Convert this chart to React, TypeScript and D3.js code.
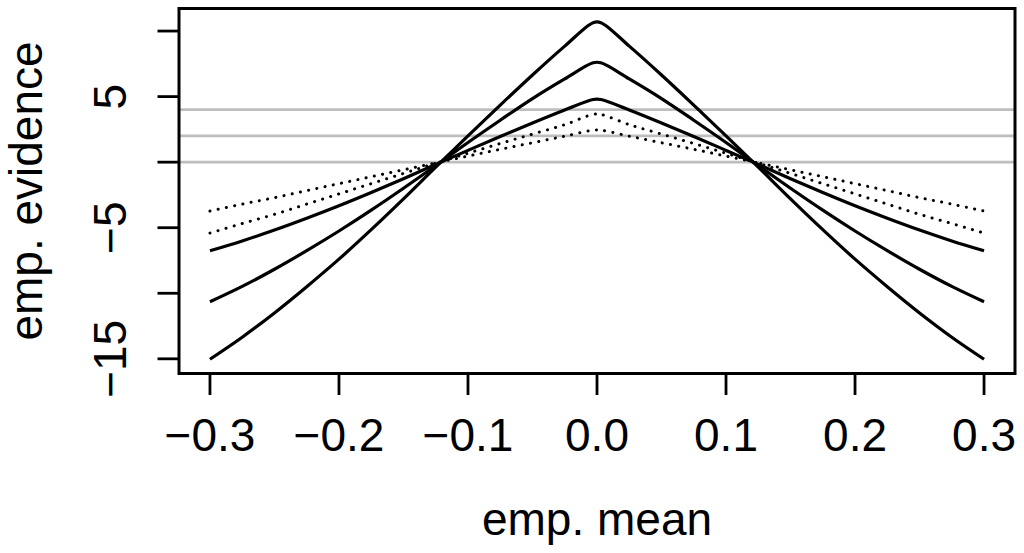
import React from "react";
import * as d3 from "d3";

// emp. mean grid (x) and the five evidence curves
const meanGrid = [
  -0.3, -0.275, -0.25, -0.225, -0.2, -0.175, -0.15, -0.125, -0.1, -0.075, -0.05, -0.025, -0.003,
  0.003, 0.025, 0.05, 0.075, 0.1, 0.125, 0.15, 0.175, 0.2, 0.225, 0.25, 0.275, 0.3,
];
const solidLarge = [
  -15.03, -13.35, -11.5, -9.5, -7.4, -5.15, -2.8, -0.38, 2.0, 4.35, 6.65, 8.85, 10.64,
  10.64, 8.85, 6.65, 4.35, 2.0, -0.38, -2.8, -5.15, -7.4, -9.5, -11.5, -13.35, -15.03,
];
const solidMid = [
  -10.65, -9.48, -8.17, -6.75, -5.25, -3.66, -1.99, -0.27, 1.5, 3.2, 4.85, 6.35, 7.58,
  7.58, 6.35, 4.85, 3.2, 1.5, -0.27, -1.99, -3.66, -5.25, -6.75, -8.17, -9.48, -10.65,
];
const solidSmall = [
  -6.76, -6.01, -5.18, -4.28, -3.33, -2.32, -1.26, -0.17, 0.9, 1.96, 2.99, 3.98, 4.78,
  4.78, 3.98, 2.99, 1.96, 0.9, -0.17, -1.26, -2.32, -3.33, -4.28, -5.18, -6.01, -6.76,
];
const dottedUpper = [
  -5.41, -4.68, -3.98, -3.2, -2.42, -1.64, -0.86, -0.08, 0.68, 1.42, 2.14, 2.86, 3.64,
  3.64, 2.86, 2.14, 1.42, 0.68, -0.08, -0.86, -1.64, -2.42, -3.2, -3.98, -4.68, -5.41,
];
const dottedLower = [
  -3.73, -3.2, -2.71, -2.17, -1.64, -1.11, -0.58, -0.06, 0.46, 0.98, 1.48, 1.98, 2.44,
  2.44, 1.98, 1.48, 0.98, 0.46, -0.06, -0.58, -1.11, -1.64, -2.17, -2.71, -3.2, -3.73,
];

const refLevels = [0, 2, 4];
const xTicks = [-0.3, -0.2, -0.1, 0.0, 0.1, 0.2, 0.3];
const yTicks = [-15, -10, -5, 0, 5, 10];
const yTickLabels = [-15, -5, 5];
const xLim = [-0.324, 0.324];
const yLim = [-16.12, 11.72];

const W = 1024;
const H = 553;
const box = { left: 179, right: 1015, top: 8.5, bottom: 373.5 };
const font = "'Liberation Sans', Arial, Helvetica, sans-serif";
const minus = (s: string) => s.replace("-", "\u2212");
const fmt = (v: number) => minus(d3.format(".1f")(v));

export default function App() {
  const x = d3.scaleLinear().domain(xLim).range([box.left, box.right]);
  const y = d3.scaleLinear().domain(yLim).range([box.bottom, box.top]);
  const line = d3
    .line<number>()
    .x((_, i) => x(meanGrid[i]))
    .y((v) => y(v))
    .curve(d3.curveCatmullRom.alpha(0.5));

  const solids = [solidLarge, solidMid, solidSmall];
  const dots = [dottedUpper, dottedLower];

  return (
    <svg
      width={W}
      height={H}
      style={{ position: "absolute", left: 0, top: 0, background: "#fff" }}
      fontFamily={font}
    >
      <rect x={0} y={0} width={W} height={H} fill="#fff" />
      {refLevels.map((r) => (
        <line
          key={"r" + r}
          x1={box.left}
          x2={box.right}
          y1={y(r)}
          y2={y(r)}
          stroke="#bebebe"
          strokeWidth={2.8}
        />
      ))}
      {solids.map((s, i) => (
        <path key={"s" + i} d={line(s) || ""} fill="none" stroke="#000" strokeWidth={3.2} strokeLinejoin="round" />
      ))}
      {dots.map((s, i) => (
        <path
          key={"d" + i}
          d={line(s) || ""}
          fill="none"
          stroke="#000"
          strokeWidth={3}
          strokeLinecap="round"
          strokeDasharray="0.1 8.3"
        />
      ))}
      <rect
        x={box.left}
        y={box.top}
        width={box.right - box.left}
        height={box.bottom - box.top}
        fill="none"
        stroke="#000"
        strokeWidth={3}
      />
      {xTicks.map((t) => (
        <g key={"x" + t}>
          <line x1={x(t)} x2={x(t)} y1={box.bottom} y2={box.bottom + 21.5} stroke="#000" strokeWidth={2.8} />
          <text x={x(t)} y={451} fontSize={46} textAnchor="middle">
            {fmt(t)}
          </text>
        </g>
      ))}
      {yTicks.map((t) => (
        <line key={"y" + t} x1={box.left - 21.5} x2={box.left} y1={y(t)} y2={y(t)} stroke="#000" strokeWidth={2.8} />
      ))}
      {yTickLabels.map((t) => (
        <text
          key={"yl" + t}
          transform={`translate(126,${y(t)}) rotate(-90)`}
          fontSize={46}
          textAnchor="middle"
        >
          {minus(String(t))}
        </text>
      ))}
      <text x={(box.left + box.right) / 2} y={535} fontSize={46} textAnchor="middle">
        emp. mean
      </text>
      <text
        transform={`translate(42,${(box.top + box.bottom) / 2}) rotate(-90)`}
        fontSize={46}
        textAnchor="middle"
      >
        emp. evidence
      </text>
    </svg>
  );
}
